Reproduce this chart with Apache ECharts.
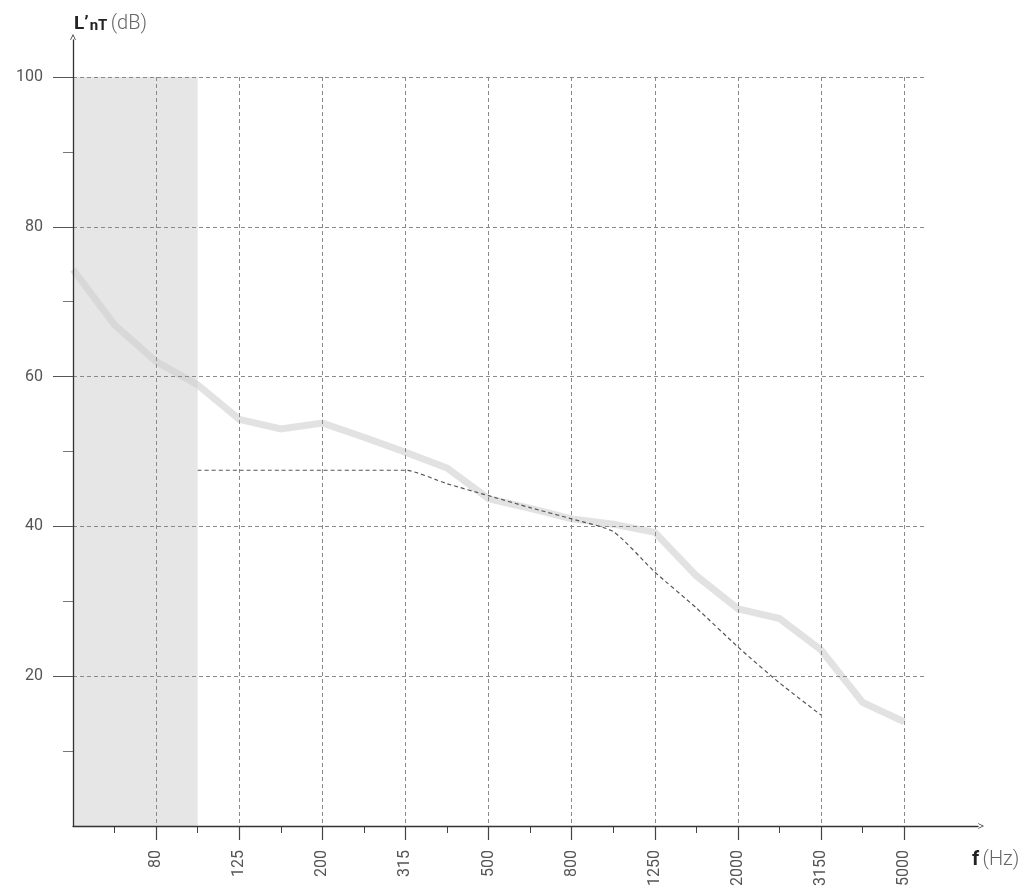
<!DOCTYPE html>
<html>
<head>
<meta charset="utf-8">
<script src="https://cdn.jsdelivr.net/npm/echarts@6/dist/echarts.min.js"></script>
<style>
html,body{margin:0;padding:0;background:#fff;}
#chart{width:1025px;height:896px;}
</style>
</head>
<body>
<div id="chart"></div>
<script>
// one-third octave bands (Hz)
const freqs = ['50','63','80','100','125','160','200','250','315','400','500','630','800','1000','1250','1600','2000','2500','3150','4000','5000'];
// measured L'nT (dB)
const measured = [74.3, 66.9, 62.0, 58.9, 54.3, 53.0, 53.8, 51.9, 49.9, 47.8, 43.7, 42.4, 41.0, 40.3, 39.2, 33.4, 29.0, 27.7, 23.5, 16.5, 13.9];
// shifted reference curve (dB)
const reference = [null, null, null, 47.5, 47.5, 47.5, 47.5, 47.5, 47.5, 45.7, 44.1, 42.5, 41.0, 39.3, 33.9, 29.1, 23.9, 19.1, 14.8, null, null];
// labelled frequency ticks
const labelledFreqs = ['80','125','200','315','500','800','1250','2000','3150','5000'];
const minorFreqs = ['63','100','160','250','400','630','1000','1600','2500','4000'];
// y ticks
const yTicks = [20, 40, 60, 80, 100];
// shaded low-frequency band
const shadedBand = ['50', '100'];

const idx = f => freqs.indexOf(f);
const measuredData = measured.map((v, i) => [i, v]);
const referenceData = reference.map((v, i) => [i, v]).filter(d => d[1] !== null);
const majorX = labelledFreqs.map(idx);
const minorX = minorFreqs.map(idx);

const chevron = 'path://M0,10 L5,0 L10,10 L8.8,10.6 L5,3 L1.2,10.6 Z';
const FONT = 'Roboto';

const chart = echarts.init(document.getElementById('chart'), null, {renderer: 'canvas'});
chart.setOption({
  animation: false,
  backgroundColor: '#ffffff',
  grid: [
    {left: 73, right: 100, top: 77, bottom: 70},
    {left: 73, right: 47, top: 40, bottom: 70}
  ],
  xAxis: [
    {
      type: 'value', gridIndex: 0, position: 'bottom', min: 0, max: 20.5, interval: 2, z: 2,
      axisLine: {show: false},
      axisTick: {show: true, customValues: majorX, length: 14, lineStyle: {color: '#444', width: 1.2}},
      axisLabel: {
        show: true, customValues: majorX, rotate: 90, margin: 24,
        formatter: v => freqs[Math.round(v)] || '',
        color: '#555', fontSize: 16, fontFamily: FONT
      },
      splitLine: {show: true, lineStyle: {color: '#8a8a8a', width: 1, type: [4, 3]}}
    },
    {
      type: 'value', gridIndex: 0, position: 'bottom', min: 0, max: 20.5, z: 2,
      axisLine: {show: false},
      axisTick: {show: true, customValues: minorX, length: 7, lineStyle: {color: '#444', width: 1}},
      axisLabel: {show: false},
      splitLine: {show: false}
    },
    {
      type: 'value', gridIndex: 1, min: 0, max: 1, z: 4,
      axisLine: {show: true, symbol: ['none', chevron], symbolSize: [9, 6], symbolOffset: [0, 3], lineStyle: {color: '#333', width: 1.3}},
      axisTick: {show: false}, axisLabel: {show: false}, splitLine: {show: false}
    }
  ],
  yAxis: [
    {
      type: 'value', gridIndex: 0, min: 0, max: 100, interval: 20, z: 2,
      axisLine: {show: false},
      axisTick: {show: true, customValues: yTicks, length: 20, lineStyle: {color: '#555', width: 1}},
      minorTick: {show: true, splitNumber: 2, length: 10, lineStyle: {color: '#777', width: 1}},
      axisLabel: {
        show: true, customValues: yTicks, margin: 30,
        color: '#555', fontSize: 16, fontFamily: FONT
      },
      splitLine: {show: true, lineStyle: {color: '#8a8a8a', width: 1, type: [4, 3]}}
    },
    {
      type: 'value', gridIndex: 1, min: 0, max: 1, z: 4,
      axisLine: {show: true, symbol: ['none', chevron], symbolSize: [9, 6], symbolOffset: [0, 3], lineStyle: {color: '#333', width: 1.3}},
      axisTick: {show: false}, axisLabel: {show: false}, splitLine: {show: false}
    }
  ],
  series: [
    {
      type: 'line', xAxisIndex: 0, yAxisIndex: 0, z: 0, data: [],
      markArea: {
        silent: true, z: 0,
        itemStyle: {color: '#e6e6e6'},
        data: [[{xAxis: idx(shadedBand[0]), yAxis: 0}, {xAxis: idx(shadedBand[1]), yAxis: 100}]]
      }
    },
    {
      name: 'measured', type: 'line', xAxisIndex: 0, yAxisIndex: 0, z: 1,
      data: measuredData, symbol: 'none',
      lineStyle: {color: '#cfcfcf', opacity: 0.6, width: 7, cap: 'butt', join: 'miter'}
    },
    {
      name: 'reference', type: 'line', xAxisIndex: 0, yAxisIndex: 0, z: 3,
      data: referenceData, symbol: 'none', smooth: 0.2,
      lineStyle: {color: '#555', width: 1.2, type: [4, 3]}
    }
  ],
  graphic: [
    {
      type: 'text', left: 74, top: 10,
      style: {
        text: '{a|L’}{b|nT} {c|(dB)}',
        rich: {
          a: {fontFamily: FONT, fontWeight: 'bold', fontSize: 19, fill: '#222', verticalAlign: 'bottom', lineHeight: 26},
          b: {fontFamily: FONT, fontWeight: 'bold', fontSize: 15, fill: '#222', padding: [9, 0, 0, 1], verticalAlign: 'bottom', lineHeight: 26},
          c: {fontFamily: FONT, fontWeight: 300, fontSize: 20, fill: '#666', verticalAlign: 'bottom', lineHeight: 26}
        }
      }
    },
    {
      type: 'text', left: 972, top: 850,
      style: {
        text: '{a|f} {c|(Hz)}',
        rich: {
          a: {fontFamily: FONT, fontWeight: 'bold', fontSize: 20, fill: '#222'},
          c: {fontFamily: FONT, fontWeight: 300, fontSize: 20, fill: '#666'}
        }
      }
    }
  ]
});
</script>
</body>
</html>
